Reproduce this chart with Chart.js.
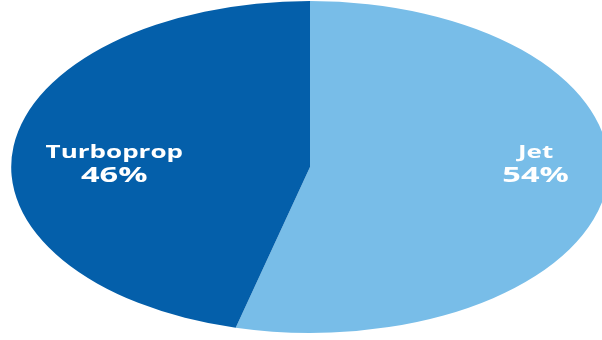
<!DOCTYPE html>
<html>
<head>
<meta charset="utf-8">
<script src="https://cdn.jsdelivr.net/npm/chart.js@4"></script>
<style>
  html, body { margin: 0; padding: 0; background: #fff; }
  #wrap { width: 602px; height: 340px; position: relative; }
  canvas { display: block; }
</style>
</head>
<body>
<div id="wrap"><canvas id="pieChart" width="602" height="340"></canvas></div>
<script>
const categories = ['Jet', 'Turboprop'];
const shares = [54, 46];
const sliceColors = ['#78bde8', '#045faa'];

// where each label sits, as a fraction of the ellipse radii from the centre
const labelSpots = [{ fx: 0.755, fy: -0.02 }, { fx: -0.655, fy: -0.02 }];

const centreX = 310;   // ellipse centre on the page
const stretchX = 1.8;  // horizontal radius / vertical radius

const ellipsePlugin = {
  id: 'ellipse',
  beforeDatasetsDraw(chart) {
    const arc = chart.getDatasetMeta(0).data[0];
    const ctx = chart.ctx;
    ctx.save();
    ctx.translate(centreX, arc.y);
    ctx.scale(stretchX, 1);
    ctx.translate(-arc.x, -arc.y);
  },
  afterDatasetsDraw(chart) {
    chart.ctx.restore();
  },
  afterDraw(chart) {
    const ctx = chart.ctx;
    const arc = chart.getDatasetMeta(0).data[0];
    const r = arc.outerRadius;
    ctx.save();
    ctx.fillStyle = '#ffffff';
    ctx.textAlign = 'center';
    ctx.textBaseline = 'alphabetic';
    categories.forEach((name, i) => {
      const x = centreX + labelSpots[i].fx * r * stretchX;
      const y = arc.y + labelSpots[i].fy * r;
      // name line
      ctx.save();
      ctx.translate(x, y);
      ctx.scale(1.53, 1);
      ctx.font = 'bold 17px "Open Sans", sans-serif';
      ctx.fillText(name, 0, -6);
      ctx.restore();
      // share line
      ctx.save();
      ctx.translate(x, y);
      ctx.scale(1.55, 1);
      ctx.font = 'bold 21px "Open Sans", sans-serif';
      ctx.fillText(shares[i] + '%', 0, 18);
      ctx.restore();
    });
    ctx.restore();
  }
};

new Chart(document.getElementById('pieChart'), {
  type: 'pie',
  data: {
    labels: categories,
    datasets: [{
      data: shares,
      backgroundColor: sliceColors,
      borderWidth: 0
    }]
  },
  options: {
    responsive: false,
    animation: false,
    maintainAspectRatio: false,
    layout: { padding: { top: 1, bottom: 7, left: 0, right: 0 } },
    plugins: {
      legend: { display: false },
      tooltip: { enabled: false }
    }
  },
  plugins: [ellipsePlugin]
});
</script>
</body>
</html>
